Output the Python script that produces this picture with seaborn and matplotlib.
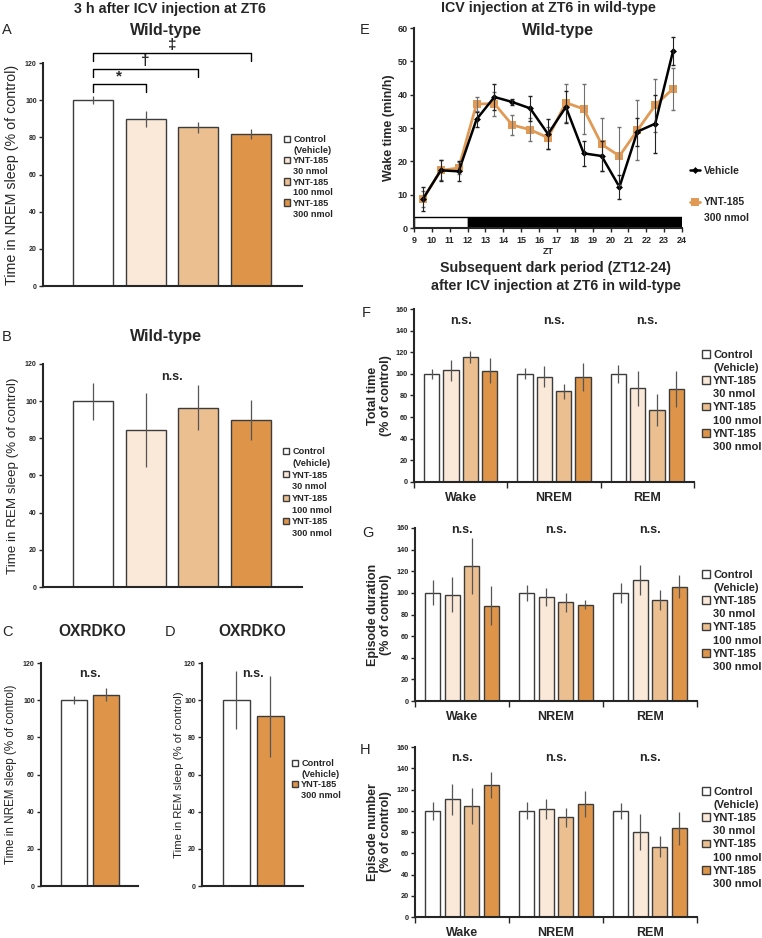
import numpy as np
import pandas as pd
import seaborn as sns
import matplotlib
matplotlib.use("Agg")
import matplotlib.pyplot as plt
from matplotlib.patches import Patch

# ---------------- data ----------------
doses = ["Control\n(Vehicle)", "YNT-185\n30 nmol", "YNT-185\n100 nmol", "YNT-185\n300 nmol"]
dose_colors = ["#FFFFFF", "#FAE8D8", "#EBBF90", "#DE954A"]

# A / B : wild-type, 3 h after injection
nrem_wt = [100, 89.8, 85.3, 82.0]
nrem_wt_err = [2.3, 4.5, 3.0, 2.7]
rem_wt = [100, 84.5, 96.5, 89.9]
rem_wt_err = [10.0, 19.7, 12.0, 10.7]
# significance brackets in A: (from bar, to bar, symbol, height)
sig_pairs = [(0, 1, "*", 108.6), (0, 2, "\u2020", 116.9), (0, 3, "\u2021", 125.3)]

# C / D : OXRDKO
ko_doses = ["Control\n(Vehicle)", "YNT-185\n300 nmol"]
ko_colors = ["#FFFFFF", "#DE954A"]
nrem_ko = [100, 103.0]
nrem_ko_err = [2.3, 3.3]
rem_ko = [100, 91.3]
rem_ko_err = [15.5, 21.8]

# E : hourly wake time
zt = [9.5, 10.5, 11.5, 12.5, 13.5, 14.5, 15.5, 16.5, 17.5, 18.5, 19.5, 20.5, 21.5, 22.5, 23.5]
wake_veh = [8.7, 17.3, 17.0, 32.6, 39.3, 37.8, 35.9, 28.2, 36.3, 22.4, 21.6, 12.3, 28.9, 31.3, 53.1]
wake_veh_err = [3.6, 3.2, 3.0, 2.3, 4.0, 0.8, 3.7, 4.5, 4.8, 3.7, 4.5, 3.5, 4.2, 8.7, 4.3]
wake_ynt = [8.7, 17.3, 18.0, 37.2, 37.3, 30.9, 29.5, 27.1, 37.6, 35.7, 25.1, 21.6, 29.3, 36.8, 41.8]
wake_ynt_err = [2.5, 3.0, 1.8, 2.2, 3.6, 3.1, 3.5, 3.3, 5.7, 7.6, 8.0, 8.7, 9.0, 8.0, 6.3]
ld_start = [9, 12]
ld_length = [3, 12]
ld_colors = ["white", "black"]

# F / G / H : dark period, rows = state, columns = dose
states = ["Wake", "NREM", "REM"]
total_time = [[100, 103.2, 115.3, 103.1], [100, 97.5, 84.0, 97.5], [100, 86.6, 66.8, 86.0]]
total_time_err = [[4.8, 10.0, 5.4, 12.0], [5.0, 10.0, 7.0, 13.0], [8.0, 16.0, 15.0, 17.0]]
ep_dur = [[100, 98.4, 124.8, 88.0], [100, 96.3, 91.3, 89.0], [100, 111.8, 93.8, 105.8]]
ep_dur_err = [[11.5, 16.0, 26.0, 18.0], [7.5, 8.0, 9.0, 4.0], [9.5, 13.7, 9.3, 10.7]]
ep_num = [[100, 110.9, 104.4, 124.1], [100, 101.3, 93.8, 106.3], [100, 79.7, 66.3, 83.4]]
ep_num_err = [[8.4, 14.6, 17.0, 12.5], [8.0, 9.4, 9.0, 12.0], [7.5, 17.0, 10.0, 15.7]]

# ---------------- style ----------------
sns.set_style("ticks")
plt.rcParams["font.family"] = ["Liberation Sans", "DejaVu Sans"]
plt.rcParams["axes.linewidth"] = 1.5

W, H = 762, 938
fig = plt.figure(figsize=(W / 100, H / 100), dpi=100)
EDGE = "#3c3c3c"
ECOL = "#555555"
BLANK = Patch(facecolor="none", edgecolor="none")


def add_ax(l, t, r, b):
    return fig.add_axes([l / W, 1 - b / H, (r - l) / W, (b - t) / H])


def ftext(x, y, s, **kw):
    kw.setdefault("ha", "center")
    kw.setdefault("va", "center")
    fig.text(x / W, 1 - y / H, s, **kw)


def ylab(ax, s, x_right, size, weight="normal"):
    ax.set_ylabel(s, fontsize=size, fontweight=weight, linespacing=1.1)
    pos = ax.get_position()
    ax.yaxis.set_label_coords(x_right / W, pos.y0 + pos.height / 2, transform=fig.transFigure)


def style_axis(ax, ymax, step, tsize):
    sns.despine(ax=ax)
    ax.set_ylim(0, ymax)
    ax.set_yticks(np.arange(0, ymax + 1, step))
    ax.tick_params(axis="y", direction="out", length=3, width=1, labelsize=tsize, pad=1.5)
    for t in ax.get_yticklabels():
        t.set_fontweight("bold")


def sorted_bars(ax):
    return sorted(ax.patches, key=lambda p: p.get_x())


def add_errors(ax, errs):
    bars = sorted_bars(ax)
    xs = [p.get_x() + p.get_width() / 2 for p in bars]
    ys = [p.get_height() for p in bars]
    ax.errorbar(xs, ys, yerr=errs, fmt="none", ecolor=ECOL, elinewidth=0.9, capsize=0, zorder=5)
    return xs


def two_line_legend(ax, handles, labels, x, y, size, spacing, hlen=0.7):
    # marker next to the first line only, second line gets an empty handle
    hs, ts = [], []
    for h, lab in zip(handles, labels):
        parts = lab.split("\n")
        hs.append(h)
        ts.append(parts[0])
        for extra in parts[1:]:
            hs.append(BLANK)
            ts.append(extra)
    ax.legend(hs, ts, loc="upper left", bbox_to_anchor=(x / W, 1 - y / H),
              bbox_transform=fig.transFigure, frameon=False,
              prop={"weight": "bold", "size": size}, handlelength=hlen, handleheight=0.7,
              handletextpad=0.3, labelspacing=spacing, borderpad=0, borderaxespad=0)


def bar_legend(ax, labels, x, y, size=6.6, spacing=0.18):
    two_line_legend(ax, sorted_bars(ax)[:len(labels)], labels, x, y, size, spacing)


def simple_bars(ax, cats, vals, errs, colors, width):
    sns.barplot(x=cats, y=vals, hue=cats, palette=colors, width=width, edgecolor=EDGE,
                linewidth=1, saturation=1, legend=False, ax=ax)
    xs = add_errors(ax, errs)
    ax.set_xticks([])
    ax.set_xlabel("")
    return xs


# ---------------- A ----------------
axA = add_ax(43, 63, 302, 286)
xsA = simple_bars(axA, doses, nrem_wt, nrem_wt_err, dose_colors, 0.76)
axA.set_xlim(-0.95, 3.97)
style_axis(axA, 120, 20, 5)
ylab(axA, "Time in NREM sleep (% of control)", 19, 10.3)
for i, j, sym, h in sig_pairs:
    axA.plot([xsA[i], xsA[i], xsA[j], xsA[j]], [h - 4.3, h, h, h - 4.3], color="black",
             lw=1, clip_on=False)
    axA.text((xsA[i] + xsA[j]) / 2, h + 0.5, sym, ha="center", va="bottom",
             fontsize=11, fontweight="bold")
bar_legend(axA, doses, 284, 135)

# ---------------- B ----------------
axB = add_ax(43, 364, 302, 587)
simple_bars(axB, doses, rem_wt, rem_wt_err, dose_colors, 0.76)
axB.set_xlim(-0.95, 3.97)
style_axis(axB, 120, 20, 5)
ylab(axB, "Time in REM sleep (% of control)", 19, 9.6)
axB.text(1.5, 113, "n.s.", ha="center", va="center", fontsize=9, fontweight="bold")
bar_legend(axB, doses, 283, 447, spacing=0.3)

# ---------------- C ----------------
axC = add_ax(41, 663, 138, 886)
simple_bars(axC, ko_doses, nrem_ko, nrem_ko_err, ko_colors, 0.8)
axC.set_xlim(-1.0, 1.97)
style_axis(axC, 120, 20, 5)
ylab(axC, "Time in NREM sleep (% of control)", 17, 8.4)
axC.text(0.5, 114, "n.s.", ha="center", va="center", fontsize=9, fontweight="bold")

# ---------------- D ----------------
axD = add_ax(202, 663, 303, 886)
simple_bars(axD, ko_doses, rem_ko, rem_ko_err, ko_colors, 0.8)
axD.set_xlim(-1.01, 1.96)
style_axis(axD, 120, 20, 5)
ylab(axD, "Time in REM sleep (% of control)", 184, 8.2)
axD.text(0.5, 114, "n.s.", ha="center", va="center", fontsize=9, fontweight="bold")
bar_legend(axD, ko_doses, 292, 759)

# ---------------- E ----------------
axE = add_ax(414, 28, 682, 228)
sns.lineplot(x=zt, y=wake_ynt, color="#E09A55", marker="s", markersize=6, markeredgewidth=0,
             linewidth=2, ax=axE, zorder=3)
sns.lineplot(x=zt, y=wake_veh, color="black", marker="D", markersize=3.5, markeredgewidth=0,
             linewidth=1.8, ax=axE, zorder=4)
axE.errorbar(zt, wake_ynt, yerr=wake_ynt_err, fmt="none", ecolor="#707070", elinewidth=0.8,
             capsize=1.5, zorder=5)
axE.errorbar(zt, wake_veh, yerr=wake_veh_err, fmt="none", ecolor="#222222", elinewidth=0.8,
             capsize=1.5, zorder=6)
axE.barh(y=1.65, width=ld_length, left=ld_start, height=3.3, color=ld_colors,
         edgecolor="black", linewidth=1, zorder=2)
axE.set_xlim(9, 24)
axE.set_xticks(range(9, 25))
axE.tick_params(axis="x", direction="out", length=3, width=1, labelsize=6.5, pad=3)
for t in axE.get_xticklabels():
    t.set_fontweight("bold")
style_axis(axE, 60, 10, 6.5)
axE.set_xlabel("")
ylab(axE, "Wake time (min/h)", 395, 9, "bold")
# blank row between the two entries, as in the reference
two_line_legend(axE, [axE.lines[1], axE.lines[0]], ["Vehicle\n ", "YNT-185\n300 nmol"],
                690, 166, 7.5, 0.55, hlen=1.0)
ftext(548, 251, "ZT", fontsize=6.5, fontweight="bold")


# ---------------- F / G / H ----------------
def grouped(box, vals, errs, label, ns_y, leg_top):
    ax = add_ax(*box)
    df = pd.DataFrame({
        "state": [s for s in states for _ in doses],
        "dose": [d for _ in states for d in doses],
        "value": [v for row in vals for v in row],
    })
    sns.barplot(data=df, x="state", y="value", hue="dose", hue_order=doses, order=states,
                palette=dose_colors, width=0.83, gap=0.22, edgecolor=EDGE, linewidth=1,
                saturation=1, legend=False, ax=ax)
    add_errors(ax, [e for row in errs for e in row])
    ax.set_xlim(-0.5, 2.5)
    style_axis(ax, 160, 20, 5.3)
    ax.set_xticks(range(3))
    ax.set_xticklabels(states, fontsize=9, fontweight="bold")
    ax.set_xticks([-0.5, 0.5, 1.5, 2.5], minor=True)
    ax.tick_params(axis="x", which="major", length=0, pad=7)
    ax.tick_params(axis="x", which="minor", direction="out", length=4, width=1)
    ax.set_xlabel("")
    ylab(ax, label, 392, 9, "bold")
    for k in range(3):
        ax.text(k, ns_y, "n.s.", ha="center", va="center", fontsize=9, fontweight="bold")
    bar_legend(ax, doses, 702, leg_top, size=8, spacing=0.28)
    return ax


grouped((414, 309, 694, 482), total_time, total_time_err, "Total time\n(% of control)", 149, 350)
grouped((415, 528, 697, 701), ep_dur, ep_dur_err, "Episode duration\n(% of control)", 158, 570)
grouped((415, 747, 697, 917), ep_num, ep_num_err, "Episode number\n(% of control)", 150, 787)

# ---------------- titles & panel letters ----------------
ftext(170, 9, "3 h after ICV injection at ZT6", fontsize=10.3, fontweight="bold")
ftext(166, 31, "Wild-type", fontsize=11.5, fontweight="bold")
ftext(166, 337, "Wild-type", fontsize=11.5, fontweight="bold")
ftext(92, 632, "OXRDKO", fontsize=11.2, fontweight="bold")
ftext(252, 632, "OXRDKO", fontsize=11.2, fontweight="bold")
ftext(548, 8, "ICV injection at ZT6 in wild-type", fontsize=10.3, fontweight="bold")
ftext(558, 31, "Wild-type", fontsize=11.5, fontweight="bold")
ftext(556, 268, "Subsequent dark period (ZT12-24)", fontsize=10.3, fontweight="bold")
ftext(556, 286, "after ICV injection at ZT6 in wild-type", fontsize=10.3, fontweight="bold")

for letter, x, y in [("A", 2, 30), ("B", 2, 337), ("C", 2, 632), ("D", 165, 632),
                     ("E", 360, 30), ("F", 362, 313), ("G", 362, 533), ("H", 360, 750)]:
    ftext(x, y, letter, fontsize=10.5, ha="left")

fig.savefig("out.png", dpi=100)
